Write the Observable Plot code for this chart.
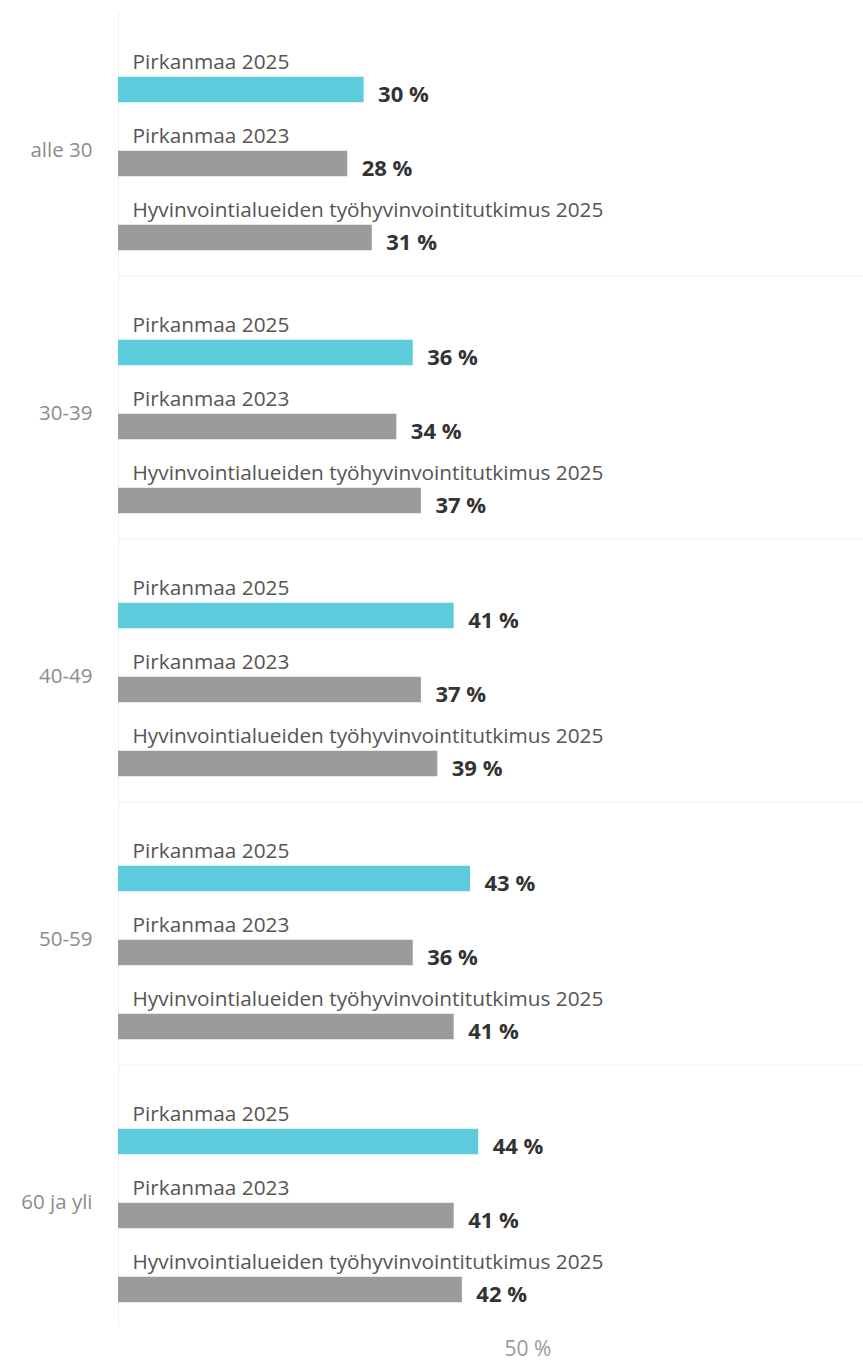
<!DOCTYPE html>
<html>
<head>
<meta charset="utf-8">
<script src="https://cdn.jsdelivr.net/npm/d3@7"></script>
<script src="https://cdn.jsdelivr.net/npm/@observablehq/plot@0.6"></script>
<style>
  html, body { margin: 0; padding: 0; background: #fff; }
  #chart svg { display: block; }
</style>
</head>
<body>
<div id="chart"></div>
<script>
const groups = ["alle 30", "30-39", "40-49", "50-59", "60 ja yli"];
const series = ["Pirkanmaa 2025", "Pirkanmaa 2023", "Hyvinvointialueiden työhyvinvointitutkimus 2025"];
const pirkanmaa2025 = [30, 36, 41, 43, 44];
const pirkanmaa2023 = [28, 34, 37, 36, 41];
const hyvinvointi2025 = [31, 37, 39, 41, 42];
const xTicks = [50];

const seriesValues = [pirkanmaa2025, pirkanmaa2023, hyvinvointi2025];
const rows = [];
groups.forEach((g, gi) => {
  series.forEach((s, si) => {
    rows.push({group: g, series: s, value: seriesValues[si][gi]});
  });
});

const font = "'Open Sans', 'Noto Sans', sans-serif";

const chart = Plot.plot({
  width: 863,
  height: 1365,
  marginTop: 10.5,
  marginBottom: 39.5,
  marginLeft: 118,
  marginRight: 0,
  style: {fontFamily: font, background: "#fff"},
  x: {domain: [0, 91]},
  y: {domain: series, paddingInner: 0, paddingOuter: 0.277, align: 1, axis: null},
  fy: {domain: groups, padding: 0, axis: null},
  color: {domain: series, range: ["#5ccbdb", "#9b9b9b", "#9b9b9b"]},
  marks: [
    Plot.ruleX([0], {stroke: "#f0f0f0", strokeWidth: 1}),
    Plot.ruleY(groups.slice(0, -1), {fy: d => d, y: () => series[2], dy: 38, stroke: "#efefef", strokeWidth: 1}),
    Plot.barX(rows, {fy: "group", y: "series", x: "value", fill: "series", insetTop: 24.25, insetBottom: 24.25}),
    Plot.text(rows, {fy: "group", y: "series", text: "series", frameAnchor: "left", textAnchor: "start",
      dx: 14, dy: -28, fontSize: 20.8, fill: "#555"}),
    Plot.text(rows, {fy: "group", y: "series", x: "value", text: d => d.value + " %", textAnchor: "start",
      dx: 14, dy: 5, fontSize: 22, fontWeight: "bold", fill: "#333"}),
    Plot.text(groups, {fy: d => d, y: () => series[1], text: d => d, frameAnchor: "left", textAnchor: "end",
      dx: -26, dy: -14, fontSize: 20.5, fill: "#8c8c8c"}),
    Plot.axisX(xTicks, {tickSize: 0, tickPadding: 15, tickFormat: d => d + " %", fontSize: 21, letterSpacing: 1, color: "#9a9a9a", label: null})
  ]
});
document.getElementById("chart").appendChild(chart);
</script>
</body>
</html>
